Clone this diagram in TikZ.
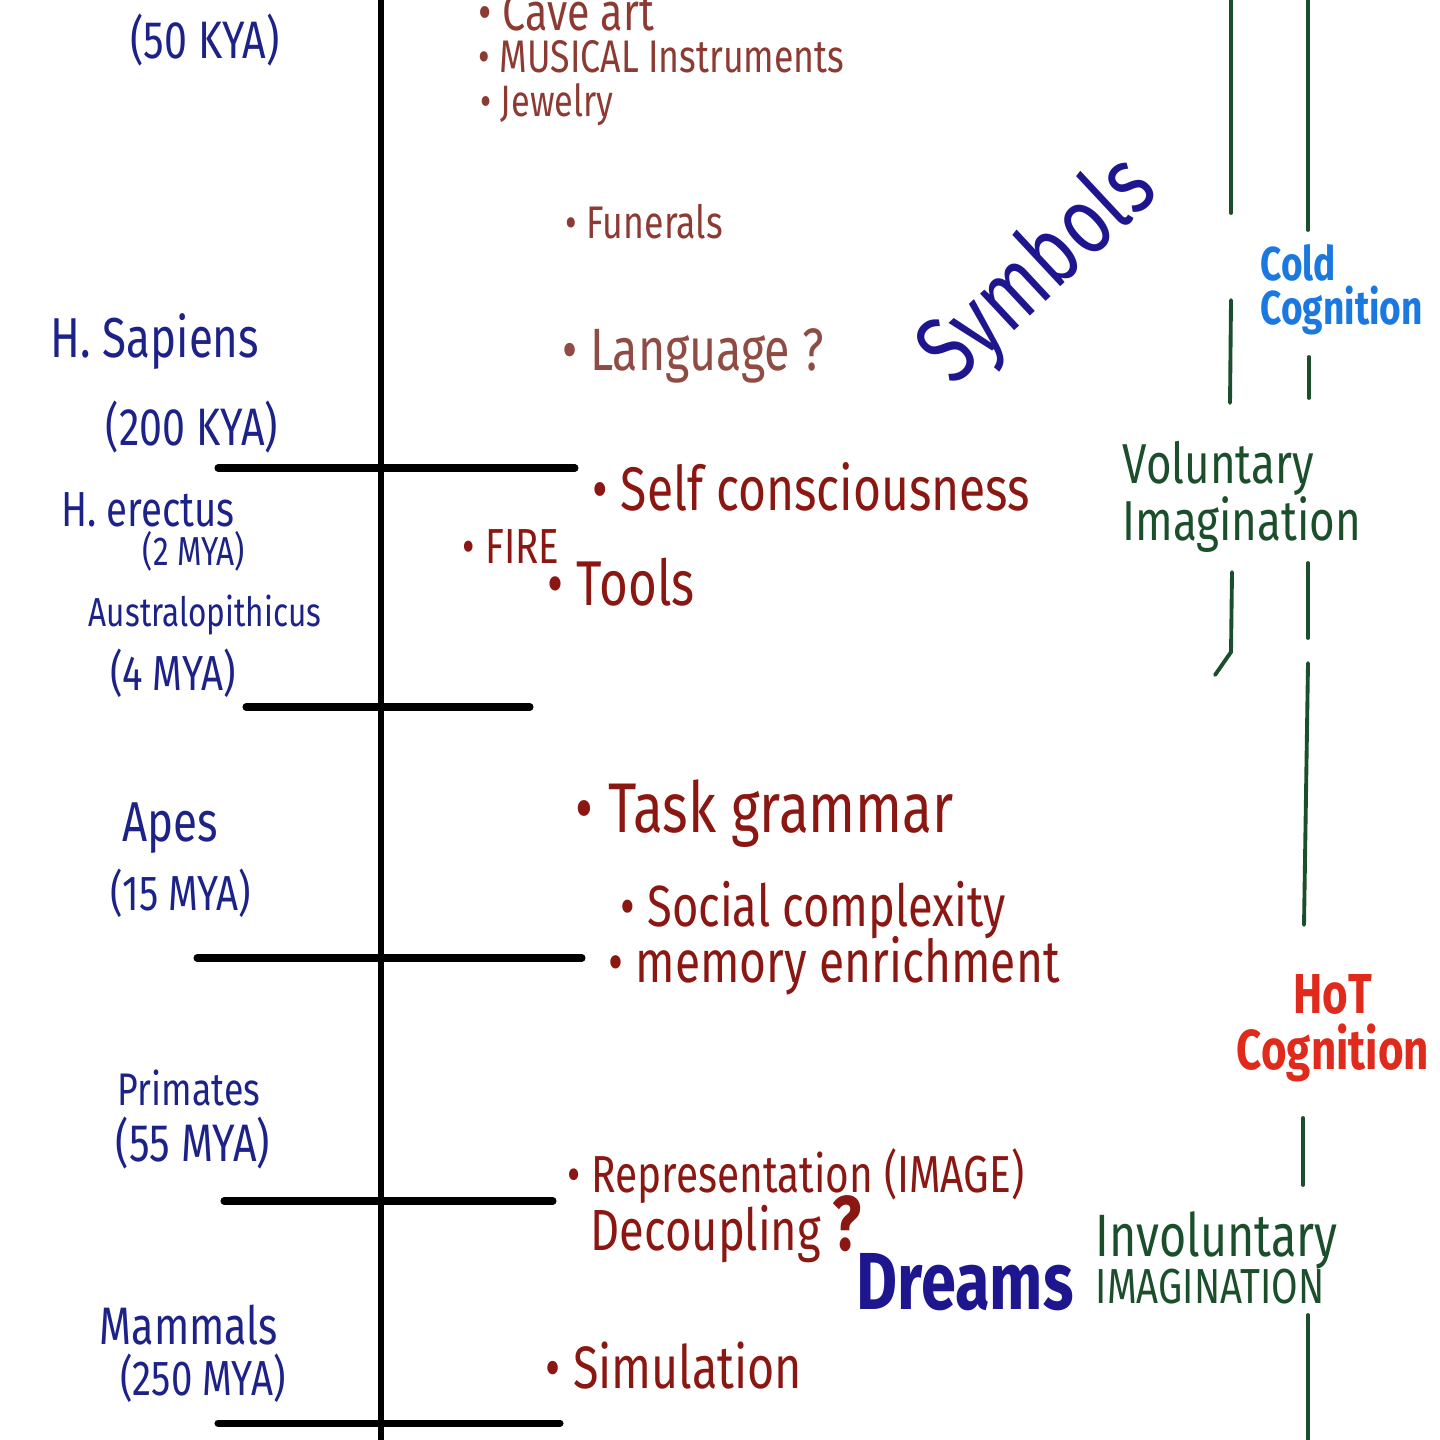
\documentclass[tikz,border=0pt]{standalone}
\usepackage{fontspec}
\setmainfont{Fira Sans}[FakeStretch=0.78]
\newcommand{\fs}[2]{\fontsize{#1}{#2}\selectfont}
\definecolor{inkblue}{HTML}{1C2288}
\definecolor{deepblue}{HTML}{1E168E}
\definecolor{inkred}{HTML}{8A1712}
\definecolor{inkbrown}{HTML}{8C3A32}
\definecolor{inkpale}{HTML}{8F4C45}
\definecolor{inkgreen}{HTML}{1B4F2B}
\definecolor{coldblue}{HTML}{1A78E0}
\definecolor{hotred}{HTML}{E02A1C}

\begin{document}
\begin{tikzpicture}[x=0.01cm, y=-0.01cm]
\tikzset{era/.style={text=inkblue, inner sep=0pt},
  item/.style={text=inkred, anchor=west, inner sep=0pt},
  tick/.style={line width=2pt, line cap=round},
  guide/.style={inkgreen, line width=1.1pt, line cap=round}}
\useasboundingbox (0,0) rectangle (1440,1440);
% time axis
\draw[line width=1.8pt] (381,0) -- (381,1440);
\draw[tick] (218,468) -- (575,468);
\draw[tick] (246,707) -- (530,707);
\draw[tick] (197,958) -- (582,958);
\draw[tick] (224,1201) -- (553,1201);
\draw[tick] (218,1423) -- (560,1423);
% eras
\node[era, font=\fs{15}{18}] (E1) at (205,40) {(50 KYA)};
\node[era, font=\fs{16}{18}] (E2) at (155,342) {H. Sapiens};
\node[era, font=\fs{15}{18}] (E3) at (192,427) {(200 KYA)};
\node[era, font=\fs{14}{18}] (E4) at (148,510) {H. erectus};
\node[era, font=\fs{11.5}{14}] (E5) at (194,551) {(2 MYA)};
\node[era, font=\fs{11.5}{14}] (E6) at (205,615) {Australopithicus};
\node[era, font=\fs{14}{18}] (E7) at (173,673) {(4 MYA)};
\node[era, font=\fs{16}{18}] (E8) at (170,828) {Apes};
\node[era, font=\fs{14}{18}] (E9) at (181,893) {(15 MYA)};
\node[era, font=\fs{13}{16}] (E10) at (189,1088) {Primates};
\node[era, font=\fs{15}{18}] (E11) at (193,1143) {(55 MYA)};
\node[era, font=\fs{15}{18}] (E12) at (189,1325) {Mammals};
\node[era, font=\fs{14}{18}] (E13) at (203,1378) {(250 MYA)};
% traits
\node[item, text=inkbrown, font=\fs{15}{18}] (T1) at (478,12) {• Cave art};
\node[item, text=inkbrown, font=\fs{13}{16}] (T2) at (478,57) {• MUSICAL Instruments};
\node[item, text=inkbrown, font=\fs{12.5}{16}] (T3) at (480,105) {• Jewelry};
\node[item, text=inkbrown, font=\fs{13}{16}] (T4) at (565,222) {• Funerals};
\node[item, text=inkpale, font=\fs{17}{20}] (T5) at (562,356) {• Language ?};
\node[item, font=\fs{17.5}{20}] (T6) at (592,487) {• Self consciousness};
\node[item, font=\fs{14}{18}] (T7) at (462,547) {• FIRE};
\node[item, font=\fs{18}{20}] (T8) at (547,582) {• Tools};
\node[item, font=\fs{20}{22}] (T9) at (575,814) {• Task grammar};
\node[item, font=\fs{16.5}{20}] (T10) at (620,910) {• Social complexity};
\node[item, font=\fs{16.8}{20}] (T11) at (608,966) {• memory enrichment};
\node[item, font=\fs{14.8}{18}] (T12) at (567,1176) {• Representation (IMAGE)};
\node[item, font=\fs{16.5}{20}] (T13) at (590,1229) {Decoupling {\fs{22}{22}\bfseries ?}};
\node[item, font=\fs{17}{20}] (T14) at (545,1366) {• Simulation};
% big words
\node[text=deepblue, rotate=43, font=\fs{27}{27}] (sym) at (1040,272) {Symbols};
\node[text=deepblue, font=\fs{23}{23}\bfseries] (dreams) at (965,1282) {Dreams};
\node[text=coldblue, align=left, anchor=west, inner sep=0pt, font=\fs{13.5}{12.5}\bfseries] (cold) at (1260,290) {Cold\\Cognition};
\node[text=hotred, align=center, inner sep=0pt, font=\fs{16}{16}\bfseries] (hot) at (1333,1028) {HoT\\Cognition};
\node[text=inkgreen, align=left, anchor=west, inner sep=0pt, font=\fs{16}{16}] (vol) at (1122,497) {Voluntary\\Imagination};
\node[text=inkgreen, align=left, anchor=west, inner sep=0pt, font=\fs{17}{13.5}] (invol) at (1095,1258) {Involuntary\\{\fs{14}{14}IMAGINATION}};
% two rails
\draw[guide] (1231,0) -- (1231,213);
\draw[guide] (1231,300) -- (1230,403);
\draw[guide] (1232,572) -- (1231,652) -- (1215,675);
\draw[guide] (1308,0) -- (1308,230);
\draw[guide] (1309,357) -- (1309,398);
\draw[guide] (1308,563) -- (1308,638);
\draw[guide] (1308,663) -- (1304,925);
\draw[guide] (1303,1118) -- (1303,1185);
\draw[guide] (1308,1315) -- (1308,1440);
\end{tikzpicture}
\end{document}
